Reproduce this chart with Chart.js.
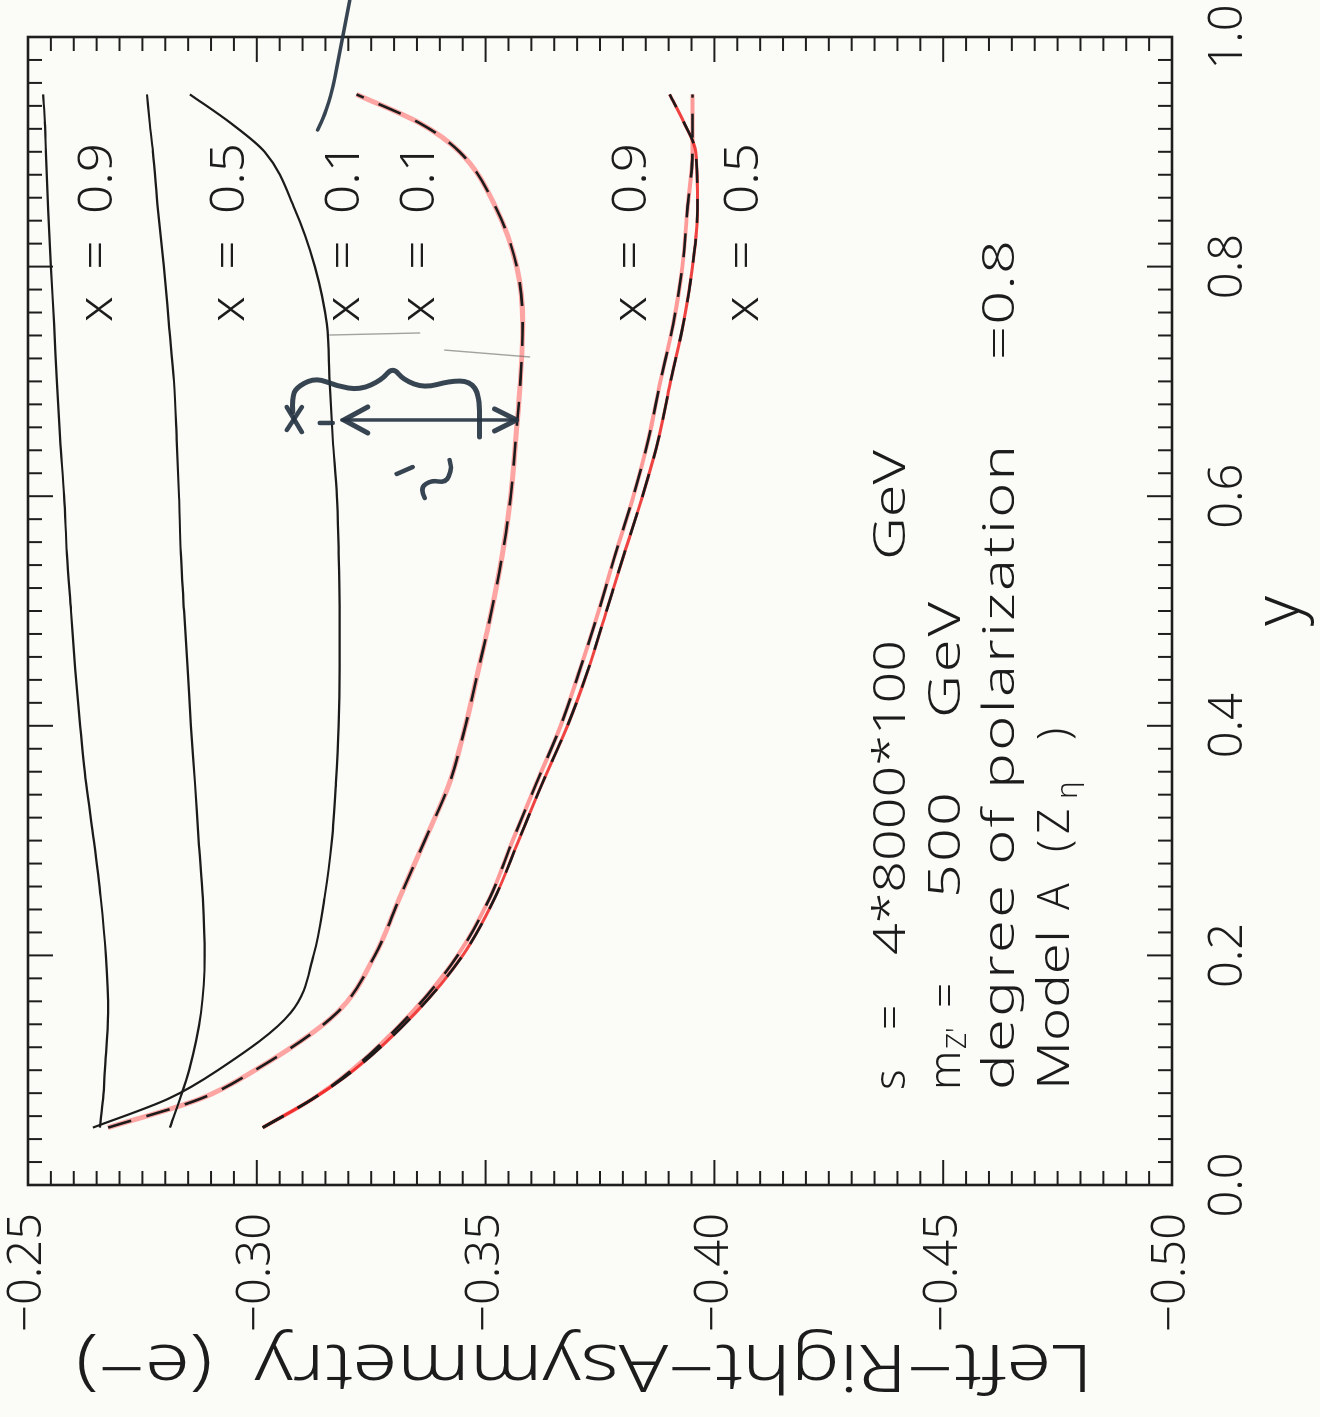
<!DOCTYPE html>
<html><head><meta charset="utf-8">
<script src="https://cdn.jsdelivr.net/npm/chart.js@4.4.1/dist/chart.umd.min.js"></script>
<style>
html,body{margin:0;padding:0;background:#fbfbf7;overflow:hidden;width:1320px;height:1417px;}
#wrap{position:absolute;left:0;top:0;width:1417px;height:1320px;transform-origin:0 0;transform:translate(0,1417px) rotate(-90deg);}
canvas{display:block;}
</style></head><body>
<div id="wrap"><canvas id="c" width="1417" height="1320"></canvas></div>
<script>
// ---- data (y variable, and Left-Right asymmetry for each curve) ----
const yValues   = [0.05,0.075,0.1,0.15,0.2,0.25,0.3,0.35,0.4,0.45,0.5,0.55,0.6,0.65,0.7,0.75,0.8,0.85,0.9,0.925,0.95];
const solidX09  = [-0.2657,-0.2664,-0.2668,-0.2675,-0.2670,-0.2659,-0.2644,-0.2627,-0.2614,-0.2603,-0.2594,-0.2585,-0.2579,-0.2570,-0.2563,-0.2557,-0.2550,-0.2544,-0.2539,-0.2537,-0.2533];
const solidX05  = [-0.2810,-0.2832,-0.2852,-0.2878,-0.2886,-0.2882,-0.2873,-0.2865,-0.2856,-0.2849,-0.2841,-0.2834,-0.2830,-0.2825,-0.2819,-0.2808,-0.2797,-0.2784,-0.2773,-0.2766,-0.2760];
const solidX01  = [-0.2642,-0.2806,-0.2915,-0.3074,-0.3124,-0.3148,-0.3164,-0.3173,-0.3179,-0.3181,-0.3181,-0.3179,-0.3175,-0.3166,-0.3159,-0.3153,-0.3127,-0.3083,-0.3017,-0.2943,-0.2854];
const dashedX01 = [-0.2675,-0.2876,-0.2996,-0.3175,-0.3258,-0.3312,-0.3367,-0.3421,-0.3456,-0.3485,-0.3513,-0.3537,-0.3555,-0.3566,-0.3576,-0.3581,-0.3568,-0.3524,-0.3443,-0.3356,-0.3218];
const dashedX05 = [-0.3013,-0.3122,-0.3212,-0.3347,-0.3450,-0.3520,-0.3572,-0.3624,-0.3679,-0.3725,-0.3764,-0.3803,-0.3843,-0.3878,-0.3904,-0.3932,-0.3952,-0.3963,-0.3959,-0.3934,-0.3902];
const dashedX09 = [-0.3013,-0.3122,-0.3207,-0.3338,-0.3439,-0.3509,-0.3559,-0.3611,-0.3664,-0.3707,-0.3747,-0.3784,-0.3823,-0.3856,-0.3882,-0.3910,-0.3930,-0.3941,-0.3952,-0.3952,-0.3952];

// ---- axes / tick labels ----
const yAxisRange = [0, 1];          // horizontal variable "y"
const asymRange  = [-0.50, -0.25];  // Left-Right asymmetry
const yTickStep = 0.2, yMinorStep = 0.02;
const aTickStep = 0.05, aMinorStep = 0.005;
const xTitle = 'y';
const aTitle = 'Left\u2212Right\u2212Asymmetry  (e\u2212)';

// ---- curve labels (text) ----
const curveLabelTexts = ['x  =  0.9','x  =  0.5','x  =  0.1','x  =  0.1','x  =  0.9','x  =  0.5'];
const curveLabelAsym  = [-0.26834,-0.29716,-0.32227,-0.33865,-0.38515,-0.40961];
const curveLabelY = 0.7517;

// ---- hand-drawn pen annotations (data units: [y, asymmetry]) ----
const braceStroke = [[0.6734,-0.30786],[0.6882,-0.30764],[0.6969,-0.30939],[0.7030,-0.31310],[0.6960,-0.31747],[0.6925,-0.32249],[0.7012,-0.32729],[0.7125,-0.32969],[0.7012,-0.33210],[0.6943,-0.33668],[0.7003,-0.34214],[0.7003,-0.34651],[0.6882,-0.34869],[0.6516,-0.34869]];
const arrowY = 0.6664, arrowFrom = -0.31856, arrowTo = -0.35677;
const pointerStroke = [[1.032,-0.3203],[0.997,-0.3186],[0.954,-0.3166],[0.932,-0.3148],[0.919,-0.3133]];
const penMarks = [
  [[0.6777,-0.30655],[0.6559,-0.30983]],
  [[0.6777,-0.30983],[0.6577,-0.30655]],
  [[0.6638,-0.31376],[0.6638,-0.31659]],
  [[0.6193,-0.33057],[0.6254,-0.33406]],
  [[0.5984,-0.33668],[0.6071,-0.33559],[0.6141,-0.33821],[0.6115,-0.34127],[0.6228,-0.34258],[0.6315,-0.34214]]
];
const pencilMarks = [
  [[0.7404,-0.31594],[0.7422,-0.33559]],
  [[0.7273,-0.34105],[0.7213,-0.35961]]
];

const FONT = "'Noto Sans','DejaVu Sans',sans-serif";
Chart.defaults.font.family = FONT;
Chart.defaults.color = '#1c1c1c';

const pts = arr => yValues.map((y,i)=>({x:y, y:arr[i]}));
function ds(label, arr, extra){
  return Object.assign({label, data: pts(arr), showLine:true, pointRadius:0, fill:false,
    cubicInterpolationMode:'monotone', borderColor:'#1b1b1b', borderWidth:2.2, order:1}, extra||{});
}

// draw text filling a target width: horizontal stretch plus letter spacing
function drawSpaced(ctx, str, x, y, target){
  const ch = [...str];
  const w = ch.map(c=>ctx.measureText(c).width);
  const nat = w.reduce((a,b)=>a+b,0);
  let sx = 1, extra = 0;
  if (target && ch.length>1){
    sx = Math.max(0.85, Math.min(1.35, target/nat));
    extra = (target - nat*sx)/(ch.length-1);
  }
  let cx = x;
  ch.forEach((c,i)=>{
    ctx.save(); ctx.translate(cx,y); ctx.scale(sx,1); ctx.fillText(c,0,0); ctx.restore();
    cx += w[i]*sx+extra;
  });
}

const decor = {
  id:'decor',
  afterDatasetsDraw(chart){
    const ctx = chart.ctx, ca = chart.chartArea, xs = chart.scales.x, ys = chart.scales.y;
    ctx.save();
    ctx.strokeStyle = '#1e1e1e'; ctx.lineWidth = 2;
    const line=(a,b,c,d)=>{ctx.beginPath();ctx.moveTo(a,b);ctx.lineTo(c,d);ctx.stroke();};
    const nA = Math.round((asymRange[1]-asymRange[0])/aMinorStep);
    for(let i=0;i<=nA;i++){
      const v = asymRange[0]+i*aMinorStep, p = ys.getPixelForValue(v);
      const L = (i % Math.round(aTickStep/aMinorStep)===0) ? 25 : 14;
      line(ca.left,p,ca.left+L,p); line(ca.right,p,ca.right-L,p);
    }
    const nY = Math.round((yAxisRange[1]-yAxisRange[0])/yMinorStep);
    for(let i=0;i<=nY;i++){
      const v = yAxisRange[0]+i*yMinorStep, p = xs.getPixelForValue(v);
      const L = (i % Math.round(yTickStep/yMinorStep)===0) ? 25 : 14;
      line(p,ca.bottom,p,ca.bottom-L); line(p,ca.top,p,ca.top+L);
    }
    ctx.lineWidth = 2.6;
    ctx.strokeRect(ca.left,ca.top,ca.right-ca.left,ca.bottom-ca.top);

    // pen annotations
    const P = (yv,a)=>[xs.getPixelForValue(yv), ys.getPixelForValue(a)];
    ctx.lineCap='round'; ctx.lineJoin='round';
    const smooth = (arr,w)=>{
      const q = arr.map(p=>P(p[0],p[1]));
      ctx.lineWidth=w; ctx.beginPath(); ctx.moveTo(q[0][0],q[0][1]);
      for(let i=1;i<q.length-1;i++){
        const mx=(q[i][0]+q[i+1][0])/2, my=(q[i][1]+q[i+1][1])/2;
        ctx.quadraticCurveTo(q[i][0],q[i][1],mx,my);
      }
      const l=q[q.length-1]; ctx.lineTo(l[0],l[1]); ctx.stroke();
    };
    ctx.strokeStyle = 'rgba(90,90,90,0.55)';
    pencilMarks.forEach(m=>smooth(m,1.4));
    ctx.strokeStyle = 'rgba(38,52,66,0.92)';
    smooth(braceStroke,5);
    smooth(pointerStroke,3.5);
    penMarks.forEach(m=>smooth(m,4.5));
    const [ax1,ay1] = P(arrowY,arrowFrom), [ax2,ay2] = P(arrowY,arrowTo);
    ctx.lineWidth=3.5; line(ax1,ay1,ax2,ay2);
    ctx.lineWidth=5;
    ctx.beginPath(); ctx.moveTo(ax1-13,ay1+26); ctx.lineTo(ax1,ay1+2); ctx.lineTo(ax1+13,ay1+26); ctx.stroke();
    ctx.beginPath(); ctx.moveTo(ax2-11,ay2-22); ctx.lineTo(ax2,ay2); ctx.lineTo(ax2+11,ay2-22); ctx.stroke();
    ctx.restore();
  },
  afterDraw(chart){
    const ctx = chart.ctx, ca = chart.chartArea, xs = chart.scales.x, ys = chart.scales.y;
    ctx.save();
    ctx.fillStyle = '#1c1c1c';
    ctx.textBaseline = 'alphabetic'; ctx.textAlign = 'left';
    // axis title (rotated, left side)
    ctx.save();
    ctx.font = `300 67px ${FONT}`;
    ctx.translate(72, (ca.top+ca.bottom)/2 - 15);
    ctx.rotate(-Math.PI/2);
    drawSpaced(ctx, aTitle, -508, 0, 1017);
    ctx.restore();
    // curve labels
    ctx.font = `300 47px ${FONT}`;
    curveLabelTexts.forEach((t,i)=>{
      drawSpaced(ctx, t, xs.getPixelForValue(curveLabelY), ys.getPixelForValue(curveLabelAsym[i]), 179);
    });
    // parameter text block
    const x0 = 327;
    const lines = [
      [905, [[0,'s'],[60,'='],[135,'4*8000*100',315],[530,'GeV',110]]],
      [960, [[0,'m'],[41,"Z'",0,28,6],[82,'='],[192,'500',106],[372,'GeV',116]]],
      [1014,[[0,'degree of polarization',645],[730,'=0.8',120]]],
      [1069,[[0,'Model',160],[180,'A'],[238,'('],[256,'Z'],[291,'\u03b7',0,30,8],[350,')']]]
    ];
    lines.forEach(([by,segs])=>{
      segs.forEach(s=>{
        const size = s[3]||44;
        ctx.font = `300 ${size}px ${FONT}`;
        drawSpaced(ctx, s[1], x0+s[0], by+(s[4]||0), s[2]||0);
      });
    });
    ctx.restore();
  }
};

new Chart(document.getElementById('c'), {
  type:'scatter',
  data:{ datasets:[
    ds('highlight x=0.1', dashedX01, {borderColor:'rgba(255,95,95,0.55)', borderWidth:5, order:3}),
    ds('highlight x=0.5', dashedX05, {borderColor:'rgba(235,20,20,0.8)', borderWidth:3, order:3}),
    ds('highlight x=0.9', dashedX09, {borderColor:'rgba(255,90,90,0.6)', borderWidth:4, order:3}),
    ds('x = 0.9', solidX09),
    ds('x = 0.5', solidX05),
    ds('x = 0.1', solidX01),
    ds('x = 0.1 (dashed)', dashedX01, {borderDash:[24,16], borderWidth:2.6}),
    ds('x = 0.5 (dashed)', dashedX05, {borderDash:[24,16], borderWidth:2.6}),
    ds('x = 0.9 (dashed)', dashedX09, {borderDash:[24,16], borderWidth:2.6})
  ]},
  options:{
    responsive:false, animation:false, devicePixelRatio:1,
    layout:{padding:{left:0, top:28, right:37, bottom:0}},
    plugins:{legend:{display:false}, tooltip:{enabled:false}},
    scales:{
      x:{type:'linear', position:'bottom', min:yAxisRange[0], max:yAxisRange[1],
        grid:{display:false}, border:{display:false},
        ticks:{stepSize:yTickStep, padding:25, autoSkip:false, maxRotation:0,
          font:{size:47, weight:300, lineHeight:1}, callback:v=>Number(v).toFixed(1)},
        title:{display:true, text:xTitle, font:{size:64, weight:300}, padding:{top:0,bottom:1}},
        afterFit(s){ s.height = 148; s.paddingLeft = 0; s.paddingRight = 0; }},
      y:{type:'linear', position:'left', min:asymRange[0], max:asymRange[1],
        grid:{display:false}, border:{display:false},
        ticks:{stepSize:aTickStep, padding:20, autoSkip:false,
          font:{size:47, weight:300, lineHeight:1},
          callback:v=>(v<0?'\u2212':'')+Math.abs(v).toFixed(2)},
        afterFit(s){ s.width = 232; s.paddingTop = 0; s.paddingBottom = 0; }}
    }
  },
  plugins:[decor]
});
</script>
</body></html>
